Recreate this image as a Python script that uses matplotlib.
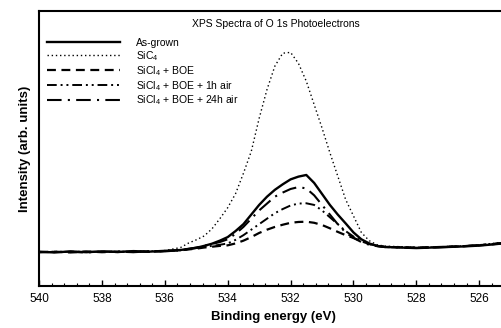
import matplotlib.pyplot as plt

plt.rcParams['font.family'] = ['Liberation Sans', 'DejaVu Sans']
plt.rcParams['mathtext.fontset'] = 'custom'
plt.rcParams['mathtext.rm'] = 'Liberation Sans'

# binding energy grid (eV)
energy = [540, 539.5, 539, 538.5, 538, 537.5, 537, 536.5, 536, 535.5, 535.25, 535,
          534.75, 534.5, 534.25, 534, 533.75, 533.5, 533.25, 533, 532.75, 532.5,
          532.25, 532, 531.75, 531.5, 531.25, 531, 530.75, 530.5, 530.25, 530,
          529.75, 529.5, 529.25, 529, 528.5, 528, 527.5, 527, 526.5, 526, 525.5, 525]

as_grown = [12.5, 12.2, 12.6, 12.3, 12.6, 12.4, 12.7, 12.5, 12.8, 13.1, 13.5, 13.9,
            14.6, 15.4, 16.5, 17.8, 20.0, 22.5, 26.0, 29.5, 32.5, 35.0,
            37.0, 38.8, 39.8, 40.4, 37.5, 33.5, 29.5, 26.0, 22.8, 19.5,
            17.0, 15.5, 14.6, 14.2, 14.0, 13.8, 14.0, 14.2, 14.4, 14.7, 15.2, 15.8]

sic4 = [12.4, 12.6, 12.3, 12.5, 12.4, 12.6, 12.5, 12.7, 12.9, 14.0, 15.6, 16.8,
        18.2, 20.8, 24.5, 28.5, 33.6, 41.0, 49.0, 61.0, 71.5, 80.0,
        84.7, 85.0, 81.0, 74.5, 66.0, 57.5, 48.5, 40.0, 31.5, 25.5,
        19.5, 16.5, 15.0, 14.5, 14.3, 14.0, 14.2, 14.4, 14.6, 15.0, 15.6, 16.3]

boe = [12.3, 12.5, 12.2, 12.6, 12.3, 12.5, 12.4, 12.6, 12.7, 13.0, 13.3, 13.6,
       14.0, 14.3, 14.6, 14.8, 15.5, 16.5, 17.8, 19.3, 20.5, 21.5,
       22.3, 23.0, 23.3, 23.4, 23.0, 22.2, 21.0, 19.7, 18.5, 17.5,
       16.3, 15.3, 14.6, 14.2, 14.1, 13.9, 14.1, 14.3, 14.5, 14.8, 15.3, 15.9]

boe_1h = [12.4, 12.3, 12.5, 12.4, 12.5, 12.3, 12.6, 12.4, 12.7, 13.0, 13.4, 13.8,
          14.2, 14.6, 15.0, 15.5, 16.8, 18.5, 20.5, 22.5, 24.5, 26.5,
          28.0, 29.3, 30.0, 30.1, 29.5, 27.5, 25.0, 22.5, 20.0, 18.0,
          16.5, 15.3, 14.6, 14.3, 14.1, 14.0, 14.1, 14.3, 14.5, 14.9, 15.4, 16.0]

boe_24h = [12.3, 12.4, 12.4, 12.2, 12.5, 12.5, 12.3, 12.6, 12.6, 13.0, 13.5, 14.0,
           14.6, 15.3, 16.0, 17.0, 19.0, 21.5, 24.5, 27.5, 30.0, 32.5,
           34.0, 35.3, 36.0, 35.5, 33.0, 29.5, 26.0, 22.5, 19.5, 17.5,
           16.0, 15.0, 14.5, 14.2, 14.0, 13.9, 14.0, 14.2, 14.5, 14.8, 15.3, 15.9]

labels = ['As-grown', 'SiC$_4$', 'SiCl$_4$ + BOE', 'SiCl$_4$ + BOE + 1h air',
          'SiCl$_4$ + BOE + 24h air']

fig = plt.figure(figsize=(5.01, 3.28), dpi=100)
ax = fig.add_axes([0.078, 0.128, 0.935, 0.838])

ax.plot(energy, as_grown, color='black', lw=1.7, label=labels[0])
ax.plot(energy, sic4, color='black', lw=1.0, linestyle=(0, (1, 2)), label=labels[1])
ax.plot(energy, boe, color='black', lw=1.6, linestyle=(0, (4, 2.5)), label=labels[2])
ax.plot(energy, boe_1h, color='black', lw=1.4, linestyle=(0, (5, 2, 1, 2, 1, 2)), label=labels[3])
ax.plot(energy, boe_24h, color='black', lw=1.5, linestyle=(0, (7, 3, 1, 3)), label=labels[4])

ax.set_xlim(540, 525.1)
ax.set_ylim(0, 100)
ax.set_xticks([540, 538, 536, 534, 532, 530, 528, 526])
ax.set_xticks([540 - 0.4 * i for i in range(38)], minor=True)
ax.set_yticks([])
ax.tick_params(axis='x', direction='in', length=4, width=1, labelsize=8.5, pad=5)
ax.tick_params(axis='x', which='minor', direction='in', length=2, width=0.8)
ax.spines['right'].set_visible(False)
for s in ['left', 'bottom', 'top']:
    ax.spines[s].set_linewidth(1.5)

ax.set_xlabel('Binding energy (eV)', fontsize=9.5, fontweight='bold', labelpad=4)
ax.set_ylabel('Intensity (arb. units)', fontsize=9.5, fontweight='bold', labelpad=6)

ax.text(0.505, 0.955, 'XPS Spectra of O 1s Photoelectrons', transform=ax.transAxes,
        ha='center', va='center', fontsize=7.5)
ax.legend(loc='upper left', bbox_to_anchor=(0.003, 0.925), frameon=False,
          fontsize=7.5, handlelength=7.0, handletextpad=1.6, labelspacing=0.1,
          borderaxespad=0.2)

fig.savefig('out.png', dpi=100)
